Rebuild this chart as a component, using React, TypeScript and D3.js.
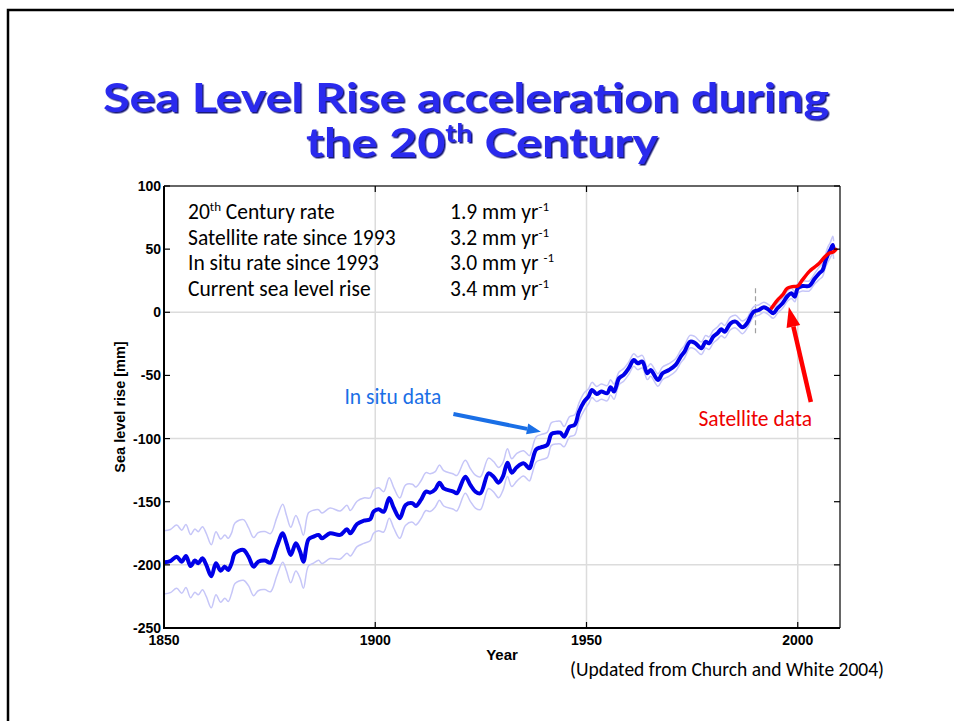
import React from 'react';
import * as d3 from 'd3';

// in situ reconstruction: [year, sea level (mm), half-width of error band (mm)]
const inSitu: [number, number, number][] = [
  [1850.0, -198, 25], [1851.5, -197, 25], [1853.0, -193.5, 25], [1854.2, -197.5, 25],
  [1855.2, -193, 25], [1856.3, -201, 25], [1857.3, -196.6, 25], [1858.1, -198.7, 25],
  [1859.1, -194.8, 25], [1860.0, -200, 25], [1861.2, -209, 25], [1862.3, -198.7, 25],
  [1863.4, -204.6, 25], [1864.4, -201.4, 25], [1865.2, -204, 25], [1866.0, -198.7, 24],
  [1866.8, -190.8, 24], [1868.8, -188.2, 24], [1870.0, -193.5, 23], [1871.2, -201.4, 23],
  [1872.3, -197.5, 23], [1873.9, -196.6, 23], [1875.2, -198.3, 23], [1876.7, -185.6, 23],
  [1878.1, -175, 23], [1879.0, -182.9, 22], [1880.0, -192.2, 22], [1881.2, -182.9, 22],
  [1882.2, -189.5, 21], [1883.0, -197.5, 21], [1884.2, -179.8, 21], [1885.4, -177.7, 21],
  [1886.6, -176.3, 20], [1887.4, -179, 20], [1889.3, -175, 20], [1891.7, -176.3, 19],
  [1893.3, -171.8, 19], [1894.1, -175, 18], [1895.7, -167.6, 18], [1897.3, -165, 18],
  [1898.8, -163.9, 17], [1899.6, -157.9, 17], [1900.8, -156, 17], [1902.0, -158, 16],
  [1903.3, -147, 16], [1904.4, -155, 16], [1905.8, -163, 16], [1907.2, -152.6, 16],
  [1908.8, -151.2, 15], [1909.6, -153.4, 15], [1910.8, -148.6, 15], [1912.0, -142, 15],
  [1913.0, -142.8, 15], [1914.2, -140.2, 14], [1915.2, -134.9, 14], [1916.2, -139.4, 14],
  [1918.5, -142, 14], [1919.3, -143.3, 14], [1921.3, -130.2, 13], [1922.5, -136.7, 13],
  [1923.7, -142, 13], [1924.9, -143.3, 13], [1926.8, -127.5, 12], [1928.0, -130.2, 12],
  [1929.2, -134.9, 12], [1930.2, -130.2, 11], [1931.3, -119.1, 11], [1932.3, -127, 11],
  [1933.5, -122.7, 11], [1935.1, -119.6, 10], [1936.5, -123.5, 10], [1937.1, -118.3, 10],
  [1938.1, -108.5, 10], [1939.2, -106.9, 10], [1940.7, -105.1, 10], [1941.7, -96.4, 9],
  [1942.9, -95.3, 9], [1943.8, -95.3, 9], [1944.7, -98.5, 8], [1946.0, -90.6, 8],
  [1947.2, -89.2, 8], [1948.2, -79, 7], [1949.4, -71, 7], [1950.5, -66.5, 6],
  [1951.3, -61.5, 6], [1952.4, -64.7, 6], [1953.5, -62.8, 6], [1954.9, -64.1, 6],
  [1955.7, -59.4, 6], [1956.5, -62.8, 6], [1957.7, -52.3, 5], [1958.8, -49.6, 5],
  [1960.0, -44.3, 5], [1961.2, -37.8, 5], [1962.1, -40.4, 5], [1963.2, -39.1, 5],
  [1964.4, -48.3, 5], [1965.2, -45.7, 5], [1966.9, -53.6, 5], [1968.0, -48.3, 5],
  [1969.5, -45.7, 5], [1971.1, -41.7, 5], [1972.3, -35.1, 5], [1973.2, -31.2, 5],
  [1974.5, -23.3, 5], [1975.6, -24.1, 5], [1977.2, -28.5, 5], [1978.2, -23.3, 5],
  [1979.0, -24.5, 5], [1980.0, -19.3, 5], [1981.0, -16.6, 5], [1981.9, -13.5, 5],
  [1982.7, -15.4, 5], [1984.1, -8.7, 5], [1985.3, -7.4, 5], [1986.9, -11.9, 5],
  [1988.1, -8.2, 4], [1988.8, -3.5, 4], [1989.6, 0.5, 4], [1990.8, 1.8, 4],
  [1992.0, 4, 4], [1993.2, 1.8, 4], [1994.2, -0.8, 4], [1995.2, 3.2, 4],
  [1996.4, 7.1, 4], [1997.6, 12.9, 4], [1998.5, 15, 4], [1999.3, 12.4, 4],
  [2000.0, 19, 4], [2001.1, 20.8, 4], [2002.7, 20.8, 4], [2003.9, 26.1, 4],
  [2005.1, 30.9, 5], [2005.9, 33.5, 5], [2006.5, 40.1, 5], [2007.1, 45.4, 6],
  [2007.7, 49.3, 6], [2008.3, 53.3, 7], [2008.5, 49.3, 7],
];

// satellite altimetry: [year, sea level (mm)]
const satellite: [number, number][] = [
  [1993.6, 2.4], [1995.2, 9.7], [1996.4, 13.7], [1997.5, 19], [1998.7, 20.3],
  [2000.0, 20.8], [2001.1, 25.6], [2002.7, 32.2], [2003.9, 35.6], [2005.1, 38.8],
  [2006.3, 43.5], [2007.4, 46.7], [2008.5, 48], [2009.3, 50.7],
];

const xTicks = [1850, 1900, 1950, 2000];
const yTicks = [-250, -200, -150, -100, -50, 0, 50, 100];
const xGrid = [1900, 1950, 2000];
const yGrid = [-200, -100, 0];

const rateLabels = ['20', 'Satellite rate since 1993', 'In situ rate since 1993', 'Current sea level rise'];
const rateValues = ['1.9', '3.2', '3.0', '3.4'];

const x = d3.scaleLinear().domain([1850, 2010]).range([164, 840]);
const y = d3.scaleLinear().domain([-250, 100]).range([628, 186]);

const curve = d3.curveCatmullRom.alpha(0.5);
const mainLine = d3.line<[number, number, number]>().x((d) => x(d[0])).y((d) => y(d[1])).curve(curve);
const upperLine = d3.line<[number, number, number]>().x((d) => x(d[0])).y((d) => y(d[1] + d[2])).curve(curve);
const lowerLine = d3.line<[number, number, number]>().x((d) => x(d[0])).y((d) => y(d[1] - d[2])).curve(curve);
const satLine = d3.line<[number, number]>().x((d) => x(d[0])).y((d) => y(d[1])).curve(curve);

const TEXT_FONT = 'Carlito, Calibri, Lato, sans-serif';
const AXIS_FONT = 'Arial, "Liberation Sans", sans-serif';

function Arrow({ from, to, color, width, head, headW }: {
  from: [number, number]; to: [number, number]; color: string; width: number; head: number; headW: number;
}) {
  const x1 = x(from[0]), y1 = y(from[1]), x2 = x(to[0]), y2 = y(to[1]);
  const a = Math.atan2(y2 - y1, x2 - x1);
  const bx = x2 - head * Math.cos(a), by = y2 - head * Math.sin(a);
  const nx = -Math.sin(a) * headW / 2, ny = Math.cos(a) * headW / 2;
  return (
    <g>
      <line x1={x1} y1={y1} x2={bx} y2={by} stroke={color} strokeWidth={width} />
      <polygon points={`${x2},${y2} ${bx + nx},${by + ny} ${bx - nx},${by - ny}`} fill={color} />
    </g>
  );
}

export default function App() {
  const [x0, x1] = x.range();
  const [y0, y1] = y.range();
  return (
    <div style={{ position: 'absolute', left: 0, top: 0 }}>
      <svg width={954} height={721} style={{ display: 'block', background: '#fff' }}>
        <defs>
          <filter id="titleShadow" x="-5%" y="-20%" width="110%" height="140%">
            <feDropShadow dx={1.5} dy={1.5} stdDeviation={0.6} floodColor="#00006a" floodOpacity={0.9} />
          </filter>
        </defs>

        {/* slide frame */}
        <path d="M8,721 V10 H954" fill="none" stroke="#000" strokeWidth={2.5} />

        {/* title */}
        <g fontFamily='"Comic Sans MS", Lato, sans-serif' fontWeight={700} fontSize={40} fill="#2a2aee" filter="url(#titleShadow)">
          <text x={103} y={112} textLength={726} lengthAdjust="spacingAndGlyphs">Sea Level Rise acceleration during</text>
          <text x={306} y={157} textLength={352} lengthAdjust="spacingAndGlyphs">the 20<tspan fontSize={24} dy={-15}>th</tspan><tspan dy={15}> Century</tspan></text>
        </g>

        {/* grid */}
        {xGrid.map((t) => (
          <line key={`gx${t}`} x1={x(t)} x2={x(t)} y1={y0} y2={y1} stroke="#dcdcdc" strokeWidth={1.5} />
        ))}
        {yGrid.map((t) => (
          <line key={`gy${t}`} x1={x0} x2={x1} y1={y(t)} y2={y(t)} stroke="#dcdcdc" strokeWidth={1.5} />
        ))}

        {/* 1990 divider */}
        <line x1={x(1990)} x2={x(1990)} y1={y(19)} y2={y(-18)} stroke="#a0a0a0" strokeWidth={1.2} strokeDasharray="5,3" />

        {/* error band */}
        <path d={upperLine(inSitu) ?? ''} fill="none" stroke="#c6c6f8" strokeWidth={1.5} />
        <path d={lowerLine(inSitu) ?? ''} fill="none" stroke="#c6c6f8" strokeWidth={1.5} />
        {/* in situ */}
        <path d={mainLine(inSitu) ?? ''} fill="none" stroke="#0000e8" strokeWidth={4} strokeLinejoin="round" />
        {/* satellite */}
        <path d={satLine(satellite) ?? ''} fill="none" stroke="#ff0000" strokeWidth={3.5} strokeLinejoin="round" />

        {/* axes box */}
        <line x1={x0} x2={x1} y1={y1} y2={y1} stroke="#333" strokeWidth={1.5} />
        <line x1={x1} x2={x1} y1={y0} y2={y1} stroke="#333" strokeWidth={1.5} />
        <line x1={x0} x2={x0} y1={y0 + 1} y2={y1} stroke="#000" strokeWidth={2} />
        <line x1={x0 - 1} x2={x1} y1={y0} y2={y0} stroke="#000" strokeWidth={2} />

        {/* ticks */}
        {yTicks.map((t) => (
          <g key={`ty${t}`}>
            <line x1={x0} x2={x0 + 6} y1={y(t)} y2={y(t)} stroke="#000" strokeWidth={1.2} />
            <line x1={x1} x2={x1 - 6} y1={y(t)} y2={y(t)} stroke="#000" strokeWidth={1.2} />
            <text x={x0 - 3} y={y(t)} dy="0.36em" textAnchor="end" fontFamily={AXIS_FONT} fontWeight="bold" fontSize={14}>{t}</text>
          </g>
        ))}
        {xTicks.map((t) => (
          <g key={`tx${t}`}>
            <line x1={x(t)} x2={x(t)} y1={y0} y2={y0 - 6} stroke="#000" strokeWidth={1.2} />
            <line x1={x(t)} x2={x(t)} y1={y1} y2={y1 + 6} stroke="#000" strokeWidth={1.2} />
            <text x={x(t)} y={y0 + 17} textAnchor="middle" fontFamily={AXIS_FONT} fontWeight="bold" fontSize={14}>{t}</text>
          </g>
        ))}
        <text x={502} y={660} textAnchor="middle" fontFamily={AXIS_FONT} fontWeight="bold" fontSize={15}>Year</text>
        <text transform={`translate(124.5,${(y0 + y1) / 2}) rotate(-90)`} textAnchor="middle" fontFamily={AXIS_FONT} fontWeight="bold" fontSize={14.5}>Sea level rise [mm]</text>

        {/* rates */}
        <g fontFamily={TEXT_FONT} fontSize={21.5} fill="#000">
          {rateLabels.map((lab, i) => (
            <text key={`rl${i}`} x={188} y={219 + i * 25.7}>
              {i === 0 ? (<>{lab}<tspan fontSize={13} dy={-8}>th</tspan><tspan dy={8}> Century rate</tspan></>) : lab}
            </text>
          ))}
          {rateValues.map((v, i) => (
            <text key={`rv${i}`} x={450} y={219 + i * 25.7}>
              {v} mm yr{i === 2 ? ' ' : ''}<tspan fontSize={13} dy={-8}>-1</tspan>
            </text>
          ))}
        </g>

        {/* annotations */}
        <text x={x(1892.7)} y={y(-72.6)} fontFamily={TEXT_FONT} fontSize={21.5} fill="#1a6fe6">In situ data</text>
        <Arrow from={[1918.5, -80.5]} to={[1939.2, -94.5]} color="#1a6fe6" width={4} head={14} headW={11} />
        <text x={x(1976.5)} y={y(-90)} fontFamily={TEXT_FONT} fontSize={21.5} fill="#ee0000">Satellite data</text>
        <Arrow from={[2003.1, -71]} to={[1997.9, 4.2]} color="#ff0000" width={4.5} head={20} headW={14} />

        <text x={570} y={676} fontFamily={TEXT_FONT} fontSize={19.5} fill="#000">(Updated from Church and White 2004)</text>
      </svg>
    </div>
  );
}
